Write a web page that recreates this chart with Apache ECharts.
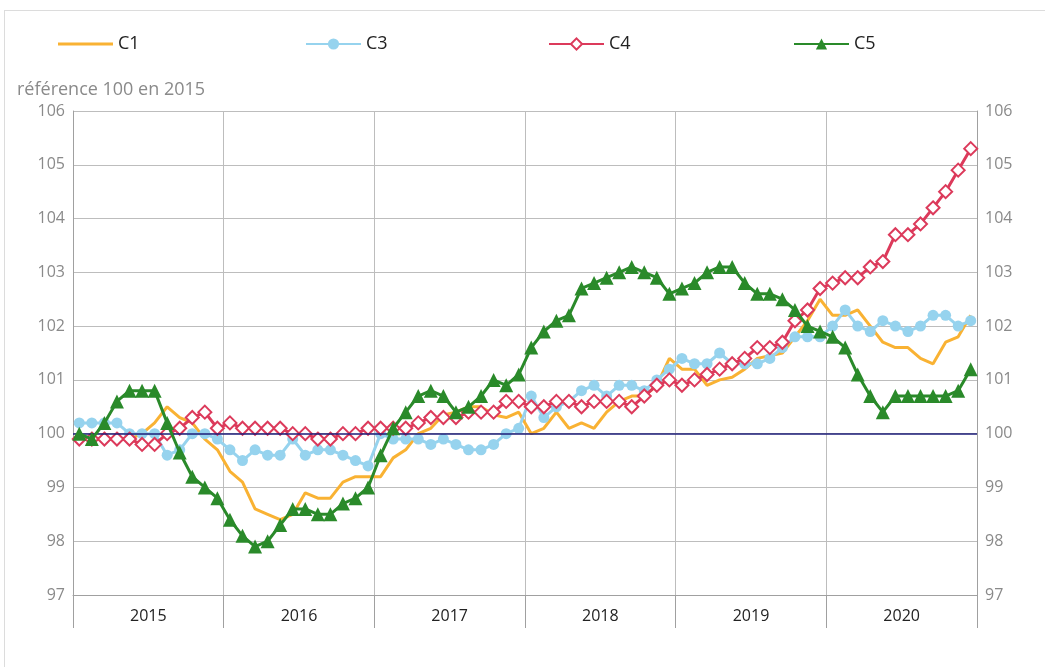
<!DOCTYPE html>
<html>
<head>
<meta charset="utf-8">
<script src="https://cdn.jsdelivr.net/npm/echarts@6/dist/echarts.min.js"></script>
<style>
  html, body { margin: 0; padding: 0; background: #fff; }
  #frame { position: absolute; left: 4px; top: 10px; width: 1100px; height: 700px; border: 1px solid #dcdcdc; box-sizing: border-box; }
  #chart { position: absolute; left: 0; top: 0; width: 1045px; height: 667px; }
</style>
</head>
<body>
<div id="frame"></div>
<div id="chart"></div>
<script>
  var years = ['2015', '2016', '2017', '2018', '2019', '2020']
  var yTicks = [97, 98, 99, 100, 101, 102, 103, 104, 105, 106]

  // monthly values, Jan 2015 -> Dec 2020
  var c1 = [
    99.9, 99.9, 99.9, 99.9, 99.9, 100.0, 100.2, 100.5, 100.3, 100.2, 99.9, 99.7,
    99.3, 99.1, 98.6, 98.5, 98.4, 98.5, 98.9, 98.8, 98.8, 99.1, 99.2, 99.2,
    99.2, 99.55, 99.7, 100.0, 100.1, 100.35, 100.4, 100.5, 100.5, 100.35, 100.3, 100.4,
    100.0, 100.1, 100.4, 100.1, 100.2, 100.1, 100.4, 100.6, 100.7, 100.7, 100.9, 101.4,
    101.2, 101.2, 100.9, 101.0, 101.05, 101.2, 101.4, 101.45, 101.5, 101.8, 102.1, 102.5,
    102.2, 102.2, 102.3, 102.0, 101.7, 101.6, 101.6, 101.4, 101.3, 101.7, 101.8, 102.2
  ]
  var c3 = [
    100.2, 100.2, 100.2, 100.2, 100.0, 100.0, 100.0, 99.6, 99.7, 100.0, 100.0, 99.9,
    99.7, 99.5, 99.7, 99.6, 99.6, 99.9, 99.6, 99.7, 99.7, 99.6, 99.5, 99.4,
    100.0, 99.9, 99.9, 99.9, 99.8, 99.9, 99.8, 99.7, 99.7, 99.8, 100.0, 100.1,
    100.7, 100.3, 100.5, 100.6, 100.8, 100.9, 100.7, 100.9, 100.9, 100.8, 101.0, 101.2,
    101.4, 101.3, 101.3, 101.5, 101.3, 101.3, 101.3, 101.4, 101.6, 101.8, 101.8, 101.8,
    102.0, 102.3, 102.0, 101.9, 102.1, 102.0, 101.9, 102.0, 102.2, 102.2, 102.0, 102.1
  ]
  var c4 = [
    99.9, 99.9, 99.9, 99.9, 99.9, 99.8, 99.8, 100.0, 100.1, 100.3, 100.4, 100.1,
    100.2, 100.1, 100.1, 100.1, 100.1, 100.0, 100.0, 99.9, 99.9, 100.0, 100.0, 100.1,
    100.1, 100.1, 100.1, 100.2, 100.3, 100.3, 100.3, 100.4, 100.4, 100.4, 100.6, 100.6,
    100.5, 100.5, 100.6, 100.6, 100.5, 100.6, 100.6, 100.6, 100.5, 100.7, 100.9, 101.0,
    100.9, 101.0, 101.1, 101.2, 101.3, 101.4, 101.6, 101.6, 101.7, 102.1, 102.3, 102.7,
    102.8, 102.9, 102.9, 103.1, 103.2, 103.7, 103.7, 103.9, 104.2, 104.5, 104.9, 105.3
  ]
  var c5 = [
    100.0, 99.9, 100.2, 100.6, 100.8, 100.8, 100.8, 100.2, 99.65, 99.2, 99.0, 98.8,
    98.4, 98.1, 97.9, 98.0, 98.3, 98.6, 98.6, 98.5, 98.5, 98.7, 98.8, 99.0,
    99.6, 100.1, 100.4, 100.7, 100.8, 100.7, 100.4, 100.5, 100.7, 101.0, 100.9, 101.1,
    101.6, 101.9, 102.1, 102.2, 102.7, 102.8, 102.9, 103.0, 103.1, 103.0, 102.9, 102.6,
    102.7, 102.8, 103.0, 103.1, 103.1, 102.8, 102.6, 102.6, 102.5, 102.3, 102.0, 101.9,
    101.8, 101.6, 101.1, 100.7, 100.4, 100.7, 100.7, 100.7, 100.7, 100.7, 100.8, 101.2
  ]

  var months = []
  years.forEach(function (y) {
    for (var m = 1; m <= 12; m++) {
      months.push(y + '-' + (m < 10 ? '0' + m : m))
    }
  })

  var font = '"Open Sans", "Noto Sans", sans-serif'
  var gridColor = '#bdbdbd'

  function legendAt (name, left, lineOnly) {
    return {
      data: lineOnly ? [{ name: name, icon: 'rect' }] : [name],
      left: left,
      top: 30,
      itemWidth: 55,
      itemHeight: lineOnly ? 3 : 14,
      itemGap: 14,
      textStyle: { fontFamily: font, fontSize: 18, color: '#222' }
    }
  }

  var yAxisBase = {
    type: 'value',
    min: yTicks[0],
    max: yTicks[yTicks.length - 1],
    interval: 1,
    axisLine: { show: true, lineStyle: { color: '#a0a0a0' } },
    axisTick: { show: false },
    axisLabel: { fontFamily: font, fontSize: 16, color: '#8a8a8a', margin: 8 }
  }

  var option = {
    animation: false,
    textStyle: { fontFamily: font },
    title: {
      text: 'référence 100 en 2015',
      left: 12,
      top: 76,
      textStyle: { fontFamily: font, fontSize: 18, fontWeight: 'normal', color: '#8a8a8a' }
    },
    legend: [
      legendAt('C1', 53, true),
      legendAt('C3', 300),
      legendAt('C4', 543),
      legendAt('C5', 788)
    ],
    grid: { left: 73, right: 68, top: 111, bottom: 72 },
    xAxis: [
      {
        type: 'category',
        data: months,
        boundaryGap: true,
        show: false
      },
      {
        type: 'category',
        data: years,
        boundaryGap: true,
        position: 'bottom',
        axisLine: { show: true, lineStyle: { color: '#a0a0a0' } },
        axisTick: { show: true, length: 33, lineStyle: { color: '#a0a0a0' } },
        axisLabel: { fontFamily: font, fontSize: 16, color: '#222', margin: 13 },
        splitLine: { show: true, lineStyle: { color: gridColor } }
      }
    ],
    yAxis: [
      Object.assign({}, yAxisBase, {
        position: 'left',
        splitLine: { show: true, lineStyle: { color: gridColor } }
      }),
      Object.assign({}, yAxisBase, {
        position: 'right',
        splitLine: { show: false }
      })
    ],
    series: [
      {
        name: 'C1',
        type: 'line',
        data: c1,
        symbol: 'none',
        color: '#f9b233',
        lineStyle: { width: 3, color: '#f9b233' },
        markLine: {
          silent: true,
          symbol: 'none',
          label: { show: false },
          lineStyle: { color: '#1c1c78', width: 1.5, type: 'solid' },
          data: [{ yAxis: 100 }]
        },
        z: 2
      },
      {
        name: 'C3',
        type: 'line',
        data: c3,
        symbol: 'circle',
        symbolSize: 11,
        showAllSymbol: true,
        color: '#96d3ee',
        itemStyle: { color: '#96d3ee' },
        lineStyle: { width: 3, color: '#96d3ee' },
        z: 3
      },
      {
        name: 'C4',
        type: 'line',
        data: c4,
        symbol: 'diamond',
        symbolSize: 13,
        showAllSymbol: true,
        color: '#dc3a5b',
        itemStyle: { color: '#fff', borderColor: '#dc3a5b', borderWidth: 2 },
        lineStyle: { width: 3, color: '#dc3a5b' },
        z: 4
      },
      {
        name: 'C5',
        type: 'line',
        data: c5,
        symbol: 'triangle',
        symbolSize: 14,
        showAllSymbol: true,
        color: '#2a8a2a',
        itemStyle: { color: '#2a8a2a' },
        lineStyle: { width: 3, color: '#2a8a2a' },
        z: 5
      }
    ]
  }

  var chart = echarts.init(document.getElementById('chart'))
  chart.setOption(option)
  window.addEventListener('resize', function () {
    chart.resize()
  })
</script>
</body>
</html>
